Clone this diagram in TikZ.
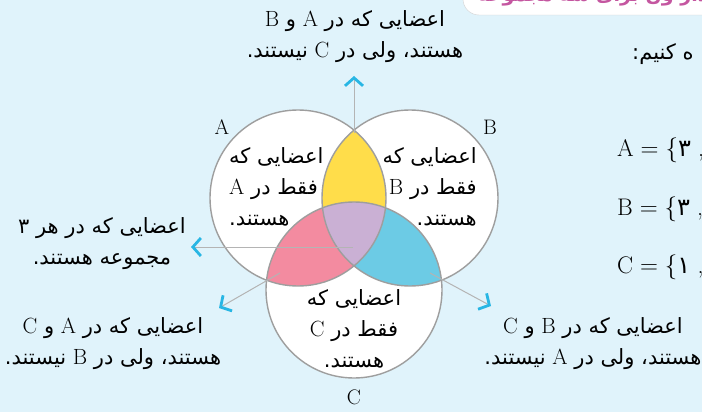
\documentclass[tikz,border=0pt]{standalone}
\usepackage{fontspec}
\usepackage{tikz}
\usetikzlibrary{arrows.meta}
\newfontfamily\fafont[Script=Arabic]{DejaVu Sans}
\TeXXeTstate=1
\newcommand{\faline}[1]{{\fafont\beginR #1\endR}}
\newcommand{\lat}[1]{{\rmfamily\fontsize{22}{22}\selectfont #1}}
\definecolor{bgblue}{RGB}{224,243,251}
\definecolor{ylwreg}{RGB}{255,221,74}
\definecolor{pnkreg}{RGB}{243,139,160}
\definecolor{cynreg}{RGB}{108,203,229}
\definecolor{lavreg}{RGB}{202,176,212}
\definecolor{circgray}{RGB}{158,158,158}
\definecolor{linegray}{RGB}{180,180,180}
\definecolor{tipblue}{RGB}{40,182,228}
\definecolor{headpink}{RGB}{196,86,160}

\begin{document}
\begin{tikzpicture}[
    x=1pt, y=-1pt,
    setcircle/.style={circle, draw=circgray, line width=1.4pt, minimum size=176pt, inner sep=0pt},
    note/.style={font=\fontsize{21}{31}\selectfont, align=center, inner sep=0pt},
    setlabel/.style={font=\fontsize{21}{21}\selectfont, inner sep=0pt},
    setline/.style={font=\fontsize{24}{24}\selectfont, inner sep=0pt, anchor=base west},
    pointer/.style={draw=linegray, line width=1pt, -{Straight Barb[color=tipblue, line width=2.8pt, length=8pt, width=18pt]}},
]
    \useasboundingbox (0,0) rectangle (702,412);
    \fill[bgblue] (0,0) rectangle (702,412);

    % header tab, cut by the page edge
    \draw[gray!35, fill=white, rounded corners=16pt] (463,-60) rectangle (740,15);
    \node[font=\bfseries\fontsize{19}{19}\selectfont, text=headpink, inner sep=0pt, anchor=base west] (head) at (478,2) {\faline{نمودار ون برای سه مجموعه}};

    % centres of the three sets
    \coordinate (cA) at (298,198);
    \coordinate (cB) at (410,198);
    \coordinate (cC) at (354,290);

    \fill[white] (cA) circle[radius=88] (cB) circle[radius=88] (cC) circle[radius=88];
    \begin{scope}
        \clip (cA) circle[radius=88];
        \fill[ylwreg] (cB) circle[radius=88];
    \end{scope}
    \begin{scope}
        \clip (cA) circle[radius=88];
        \fill[pnkreg] (cC) circle[radius=88];
    \end{scope}
    \begin{scope}
        \clip (cB) circle[radius=88];
        \fill[cynreg] (cC) circle[radius=88];
    \end{scope}
    \begin{scope}
        \clip (cA) circle[radius=88];
        \clip (cB) circle[radius=88];
        \fill[lavreg] (cC) circle[radius=88];
    \end{scope}

    \node[setcircle] (A) at (cA) {};
    \node[setcircle] (B) at (cB) {};
    \node[setcircle] (C) at (cC) {};

    \node[setlabel] (labA) at (222,127) {A};
    \node[setlabel] (labB) at (490,127) {B};
    \node[setlabel] (labC) at (354,397) {C};

    % texts inside the circles
    \node[note, align=left, anchor=west] (onlyA) at (229,187) {\faline{اعضایی که}\\\faline{فقط در \lat{A}}\\\faline{هستند.}};
    \node[note, align=right, anchor=east] (onlyB) at (477,187) {\faline{اعضایی که}\\\faline{فقط در \lat{B}}\\\faline{هستند.}};
    \node[note] (onlyC) at (354,329) {\faline{اعضایی که}\\\faline{فقط در \lat{C}}\\\faline{هستند.}};

    % texts outside
    \node[note] (txtAB) at (355,37) {\faline{اعضایی که در \lat{A} و \lat{B}}\\\faline{هستند، ولی در \lat{C} نیستند.}};
    \node[note] (txtABC) at (102,244) {\faline{اعضایی که در هر ۳}\\\faline{مجموعه هستند.}};
    \node[note] (txtAC) at (113,344) {\faline{اعضایی که در \lat{A} و \lat{C}}\\\faline{هستند، ولی در \lat{B} نیستند.}};
    \node[note] (txtBC) at (593,344) {\faline{اعضایی که در \lat{B} و \lat{C}}\\\faline{هستند، ولی در \lat{A} نیستند.}};

    % right column, cut by the page edge
    \node[note, anchor=base west] (intro) at (632,60) {\faline{ه کنیم:}};
    \node[setline] (setA) at (617,157) {$\mathrm{A}=\{${\fafont ۳}\ ,};
    \node[setline] (setB) at (617,215) {$\mathrm{B}=\{${\fafont ۳}\ ,};
    \node[setline] (setC) at (617,273) {$\mathrm{C}=\{${\fafont ۱}\ ,};

    % pointers from the regions to the texts
    \coordinate (inAB) at (354,133);
    \coordinate (inABC) at (353,247);
    \coordinate (inAC) at (280,273);
    \coordinate (inBC) at (430,273);
    \coordinate (tipAB) at (354,76);
    \coordinate (tipABC) at (191,247);
    \coordinate (tipAC) at (219,308);
    \coordinate (tipBC) at (491,306);
    \draw[pointer] (inAB) -- (tipAB);
    \draw[pointer] (inABC) -- (tipABC);
    \draw[pointer] (inAC) -- (tipAC);
    \draw[pointer] (inBC) -- (tipBC);
\end{tikzpicture}
\end{document}
